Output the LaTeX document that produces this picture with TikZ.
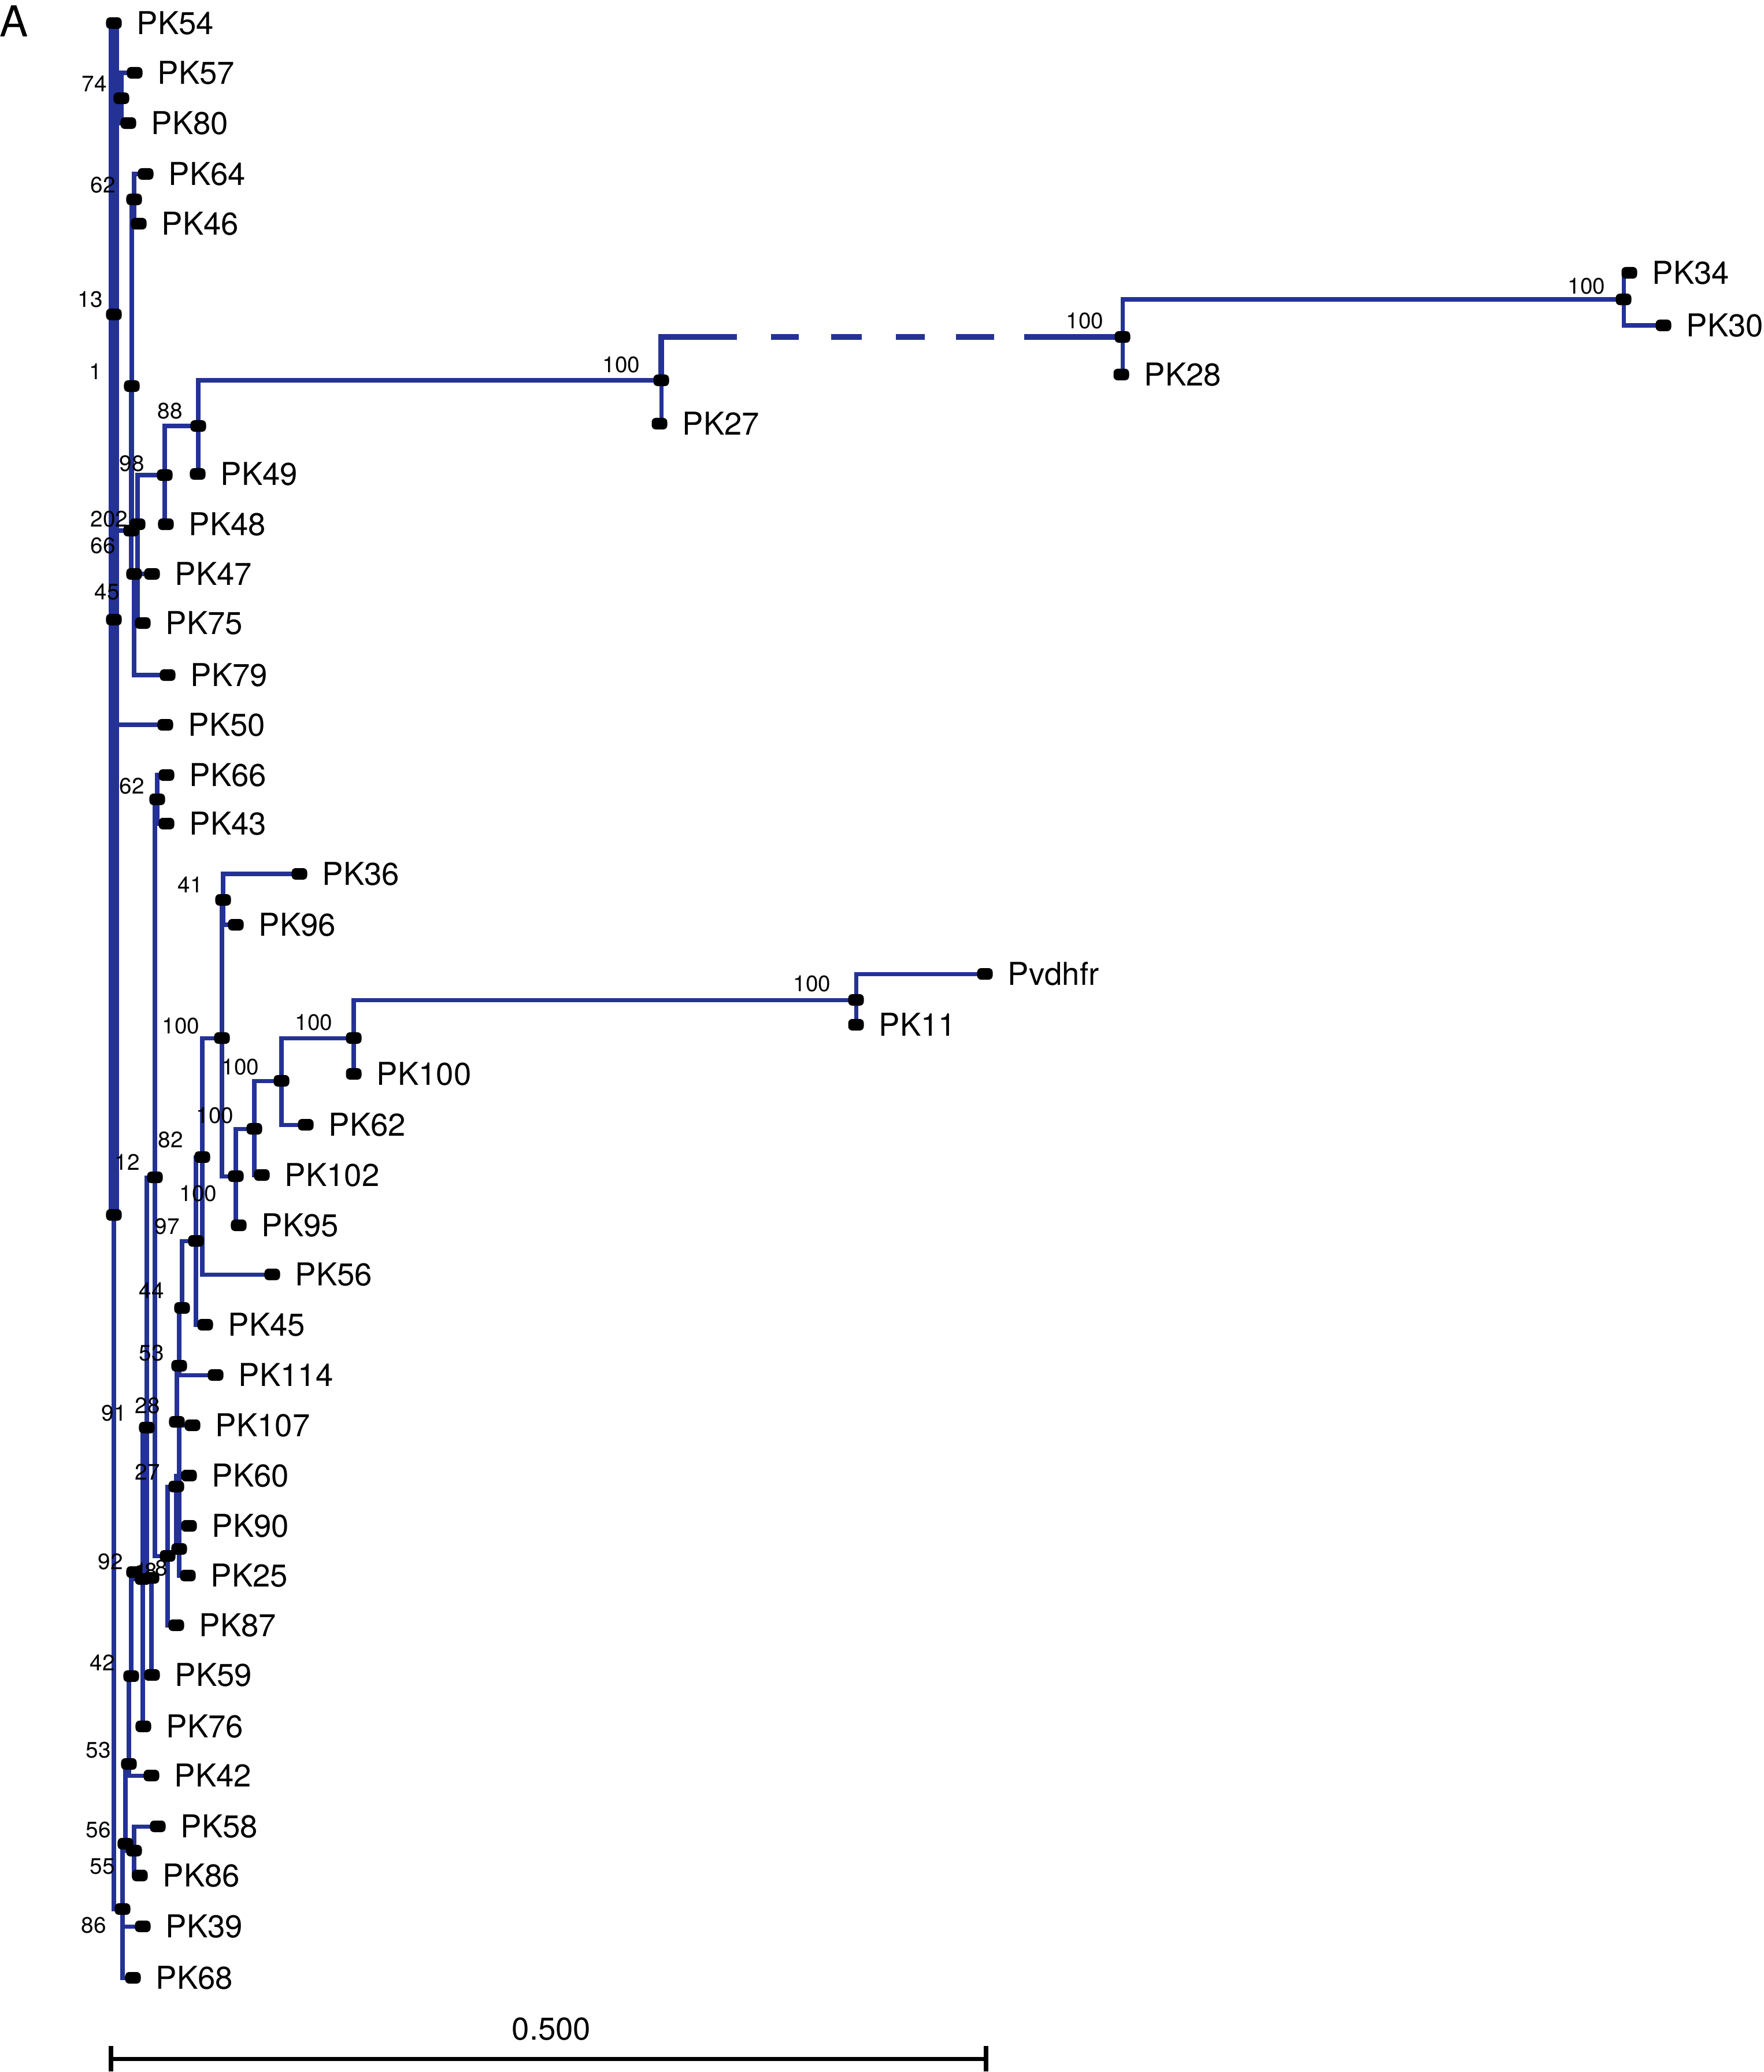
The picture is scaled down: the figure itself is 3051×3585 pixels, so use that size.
\documentclass[tikz,border=0pt]{standalone}
\usepackage{fontspec}
\setmainfont{TeX Gyre Heros}
\usetikzlibrary{positioning,backgrounds}
\definecolor{treeblue}{RGB}{36,50,150}
\newcommand{\clade}[3][br]{\draw[#1] (#2.center) |- (#3.center);}
\tikzset{
  br/.style={draw=treeblue, line width=2pt},
  trunk/.style={draw=treeblue, line width=5pt},
  dashbr/.style={draw=treeblue, line width=2.6pt,
    dash pattern=on 2.06cm off 0.59cm on 0.48cm off 0.56cm on 0.53cm off 0.59cm on 0.5cm off 0.54cm on 0.66cm off 0.52cm on 2cm off 1cm},
  tipdot/.style={fill=black, rounded corners=2pt, minimum width=0.27cm, minimum height=0.2cm, inner sep=0pt},
  taxon/.style={font=\fontsize{15.5}{18}\selectfont, inner sep=0pt},
  boot/.style={font=\fontsize{11}{13}\selectfont, inner sep=0pt},
}
\begin{document}
\begin{tikzpicture}[x=0.01cm, y=-0.01cm]
    \useasboundingbox (0,0) rectangle (3051,3585);
    \node[font=\fontsize{21}{23}\selectfont, inner sep=0pt] (panel) at (24,37) {A};

    %%leaves
    \node[tipdot] (PK54) at (197,40) {};     \node[taxon, right=0.25cm of PK54] (tPK54) {PK54};
    \node[tipdot] (PK57) at (233,126) {};    \node[taxon, right=0.25cm of PK57] (tPK57) {PK57};
    \node[tipdot] (PK80) at (222,213) {};    \node[taxon, right=0.25cm of PK80] (tPK80) {PK80};
    \node[tipdot] (PK64) at (252,301) {};    \node[taxon, right=0.25cm of PK64] (tPK64) {PK64};
    \node[tipdot] (PK46) at (240,387) {};    \node[taxon, right=0.25cm of PK46] (tPK46) {PK46};
    \node[tipdot] (PK34) at (2819,472) {};   \node[taxon, right=0.25cm of PK34] (tPK34) {PK34};
    \node[tipdot] (PK30) at (2878,563) {};   \node[taxon, right=0.25cm of PK30] (tPK30) {PK30};
    \node[tipdot] (PK28) at (1940,648) {};   \node[taxon, right=0.25cm of PK28] (tPK28) {PK28};
    \node[tipdot] (PK27) at (1141,733) {};   \node[taxon, right=0.25cm of PK27] (tPK27) {PK27};
    \node[tipdot] (PK49) at (342,820) {};    \node[taxon, right=0.25cm of PK49] (tPK49) {PK49};
    \node[tipdot] (PK48) at (287,907) {};    \node[taxon, right=0.25cm of PK48] (tPK48) {PK48};
    \node[tipdot] (PK47) at (263,993) {};    \node[taxon, right=0.25cm of PK47] (tPK47) {PK47};
    \node[tipdot] (PK75) at (247,1078) {};   \node[taxon, right=0.25cm of PK75] (tPK75) {PK75};
    \node[tipdot] (PK79) at (290,1168) {};   \node[taxon, right=0.25cm of PK79] (tPK79) {PK79};
    \node[tipdot] (PK50) at (286,1254) {};   \node[taxon, right=0.25cm of PK50] (tPK50) {PK50};
    \node[tipdot] (PK66) at (288,1341) {};   \node[taxon, right=0.25cm of PK66] (tPK66) {PK66};
    \node[tipdot] (PK43) at (288,1425) {};   \node[taxon, right=0.25cm of PK43] (tPK43) {PK43};
    \node[tipdot] (PK36) at (518,1512) {};   \node[taxon, right=0.25cm of PK36] (tPK36) {PK36};
    \node[tipdot] (PK96) at (408,1600) {};   \node[taxon, right=0.25cm of PK96] (tPK96) {PK96};
    \node[tipdot] (Pvdhfr) at (1704,1685) {}; \node[taxon, right=0.25cm of Pvdhfr] (tPvdhfr) {Pvdhfr};
    \node[tipdot] (PK11) at (1481,1773) {};  \node[taxon, right=0.25cm of PK11] (tPK11) {PK11};
    \node[tipdot] (PK100) at (612,1858) {};  \node[taxon, right=0.25cm of PK100] (tPK100) {PK100};
    \node[tipdot] (PK62) at (529,1946) {};   \node[taxon, right=0.25cm of PK62] (tPK62) {PK62};
    \node[tipdot] (PK102) at (453,2033) {};  \node[taxon, right=0.25cm of PK102] (tPK102) {PK102};
    \node[tipdot] (PK95) at (413,2120) {};   \node[taxon, right=0.25cm of PK95] (tPK95) {PK95};
    \node[tipdot] (PK56) at (471,2205) {};   \node[taxon, right=0.25cm of PK56] (tPK56) {PK56};
    \node[tipdot] (PK45) at (355,2292) {};   \node[taxon, right=0.25cm of PK45] (tPK45) {PK45};
    \node[tipdot] (PK114) at (373,2379) {};  \node[taxon, right=0.25cm of PK114] (tPK114) {PK114};
    \node[tipdot] (PK107) at (333,2466) {};  \node[taxon, right=0.25cm of PK107] (tPK107) {PK107};
    \node[tipdot] (PK60) at (327,2553) {};   \node[taxon, right=0.25cm of PK60] (tPK60) {PK60};
    \node[tipdot] (PK90) at (327,2640) {};   \node[taxon, right=0.25cm of PK90] (tPK90) {PK90};
    \node[tipdot] (PK25) at (325,2726) {};   \node[taxon, right=0.25cm of PK25] (tPK25) {PK25};
    \node[tipdot] (PK87) at (305,2812) {};   \node[taxon, right=0.25cm of PK87] (tPK87) {PK87};
    \node[tipdot] (PK59) at (263,2898) {};   \node[taxon, right=0.25cm of PK59] (tPK59) {PK59};
    \node[tipdot] (PK76) at (248,2987) {};   \node[taxon, right=0.25cm of PK76] (tPK76) {PK76};
    \node[tipdot] (PK42) at (262,3072) {};   \node[taxon, right=0.25cm of PK42] (tPK42) {PK42};
    \node[tipdot] (PK58) at (273,3160) {};   \node[taxon, right=0.25cm of PK58] (tPK58) {PK58};
    \node[tipdot] (PK86) at (242,3245) {};   \node[taxon, right=0.25cm of PK86] (tPK86) {PK86};
    \node[tipdot] (PK39) at (247,3333) {};   \node[taxon, right=0.25cm of PK39] (tPK39) {PK39};
    \node[tipdot] (PK68) at (230,3422) {};   \node[taxon, right=0.25cm of PK68] (tPK68) {PK68};

    %%inner nodes
    \node[tipdot] (n74) at (210,170) {};
    \node[tipdot] (n62a) at (232,345) {};
    \node[tipdot] (n13) at (197,544) {};
    \node[tipdot] (n1) at (228,668) {};
    \node[tipdot] (n88) at (343,737) {};
    \node[tipdot] (n98) at (285,822) {};
    \node[tipdot] (n202) at (238,907) {};
    \node[tipdot] (n66) at (227,918) {};
    \node[tipdot] (nB) at (232,993) {};
    \node[tipdot] (n45) at (197,1072) {};
    \node[tipdot] (n100a) at (1144,658) {};
    \node[tipdot] (n100b) at (1942,583) {};
    \node[tipdot] (n100c) at (2809,518) {};
    \node[tipdot] (n62b) at (272,1383) {};
    \node[tipdot] (n41) at (386,1557) {};
    \node[tipdot] (n100e) at (384,1796) {};
    \node[tipdot] (n100j) at (612,1796) {};
    \node[tipdot] (n100k) at (1481,1730) {};
    \node[tipdot] (n100i) at (487,1870) {};
    \node[tipdot] (n100h) at (440,1953) {};
    \node[tipdot] (n100g) at (408,2035) {};
    \node[tipdot] (n100d) at (350,2002) {};
    \node[tipdot] (n82) at (268,2037) {};
    \node[tipdot] (n12) at (197,2102) {};
    \node[tipdot] (n97) at (339,2147) {};
    \node[tipdot] (n44) at (315,2263) {};
    \node[tipdot] (n53a) at (310,2363) {};
    \node[tipdot] (nP107) at (306,2460) {};
    \node[tipdot] (n28) at (254,2470) {};
    \node[tipdot] (n27) at (305,2572) {};
    \node[tipdot] (c5) at (310,2680) {};
    \node[tipdot] (c4) at (290,2692) {};
    \node[tipdot] (c1) at (232,2720) {};
    \node[tipdot] (c2) at (247,2732) {};
    \node[tipdot] (c3) at (262,2730) {};
    \node[tipdot] (n42) at (227,2900) {};
    \node[tipdot] (n53b) at (223,3052) {};
    \node[tipdot] (n56) at (217,3190) {};
    \node[tipdot] (n55) at (232,3202) {};
    \node[tipdot] (n86) at (212,3303) {};

    %%support values
    \node[boot] (b74) at (163,145) {74};
    \node[boot] (b62a) at (178,320) {62};
    \node[boot] (b13) at (156,518) {13};
    \node[boot] (b1) at (165,643) {1};
    \node[boot] (b88) at (294,711) {88};
    \node[boot] (b98) at (228,802) {98};
    \node[boot] (b202) at (189,898) {202};
    \node[boot] (b66) at (178,944) {66};
    \node[boot] (b45) at (185,1024) {45};
    \node[boot] (b100a) at (1075,631) {100};
    \node[boot] (b100b) at (1877,555) {100};
    \node[boot] (b100c) at (2745,495) {100};
    \node[boot] (b62b) at (228,1360) {62};
    \node[boot] (b41) at (329,1531) {41};
    \node[boot] (b100k) at (1405,1702) {100};
    \node[boot] (b100e) at (313,1775) {100};
    \node[boot] (b100j) at (543,1769) {100};
    \node[boot] (b100i) at (416,1846) {100};
    \node[boot] (b100h) at (372,1930) {100};
    \node[boot] (b82) at (295,1972) {82};
    \node[boot] (b12) at (220,2011) {12};
    \node[boot] (b100g) at (343,2065) {100};
    \node[boot] (b97) at (289,2122) {97};
    \node[boot] (b44) at (262,2233) {44};
    \node[boot] (b53a) at (262,2341) {53};
    \node[boot] (b91) at (197,2445) {91};
    \node[boot] (b28) at (255,2432) {28};
    \node[boot] (b27) at (255,2547) {27};
    \node[boot] (b92) at (191,2702) {92};
    \node[boot] (bc1) at (244,2718) {1};
    \node[boot] (bc2) at (261,2718) {8};
    \node[boot] (bc3) at (279,2713) {8};
    \node[boot] (b42) at (177,2877) {42};
    \node[boot] (b53b) at (170,3028) {53};
    \node[boot] (b56) at (170,3166) {56};
    \node[boot] (b55) at (177,3229) {55};
    \node[boot] (b86) at (162,3331) {86};

    %%branches
    \begin{scope}[on background layer]
        \clade[trunk]{n13}{PK54} \clade[trunk]{n45}{n13} \clade[trunk]{n12}{n45}
        \clade{n13}{n74} \clade{n74}{PK57} \clade{n74}{PK80}
        \clade{n45}{n66} \clade{n45}{PK50}
        \clade{n66}{n1} \clade{n66}{nB}
        \clade{nB}{PK47} \clade{nB}{PK79}
        \clade{n1}{n62a} \clade{n1}{n202}
        \clade{n62a}{PK64} \clade{n62a}{PK46}
        \clade{n202}{n98} \clade{n202}{PK75}
        \clade{n98}{n88} \clade{n98}{PK48}
        \clade{n88}{n100a} \clade{n88}{PK49}
        \clade{n100a}{PK27} \clade[dashbr]{n100a}{n100b}
        \clade{n100b}{PK28} \clade{n100b}{n100c}
        \clade{n100c}{PK34} \clade{n100c}{PK30}
        %lower part
        \clade{n12}{n86}
        \clade{n86}{n56} \clade{n86}{PK39} \clade{n86}{PK68}
        \clade{n56}{n53b} \clade{n56}{n55}
        \clade{n55}{PK58} \clade{n55}{PK86}
        \clade{n53b}{n42} \clade{n53b}{PK42}
        \clade{n42}{c1} \clade{c1}{c2}
        \clade{c2}{n28} \clade{c2}{PK76}
        \clade{n28}{n82} \clade{n28}{c3} \clade{c3}{PK59}
        \clade{n82}{n62b} \clade{n82}{c4}
        \clade{n62b}{PK66} \clade{n62b}{PK43}
        \clade{c4}{n27} \clade{c4}{PK87}
        \clade{n27}{PK60} \clade{n27}{c5}
        \clade{c5}{nP107} \clade{c5}{PK90} \clade{c5}{PK25}
        \clade{nP107}{n53a} \clade{nP107}{PK107}
        \clade{n53a}{n44} \clade{n53a}{PK114}
        \clade{n44}{n97}
        \clade{n97}{n100d} \clade{n97}{PK45}
        \clade{n100d}{n100e} \clade{n100d}{PK56}
        \clade{n100e}{n41} \clade{n100e}{n100g}
        \clade{n41}{PK36} \clade{n41}{PK96}
        \clade{n100g}{n100h} \clade{n100g}{PK95}
        \clade{n100h}{n100i} \clade{n100h}{PK102}
        \clade{n100i}{n100j} \clade{n100i}{PK62}
        \clade{n100j}{n100k} \clade{n100j}{PK100}
        \clade{n100k}{Pvdhfr} \clade{n100k}{PK11}
    \end{scope}

    %%scale bar
    \coordinate (sbL) at (192,3562);
    \coordinate (sbR) at (1706,3562);
    \draw[line width=2pt] (sbL) -- (sbR);
    \draw[line width=2.4pt] (sbL) ++(0,-22) -- ++(0,44);
    \draw[line width=2.4pt] (sbR) ++(0,-22) -- ++(0,44);
    \node[taxon] (sbtext) at (954,3511) {0.500};
\end{tikzpicture}
\end{document}
